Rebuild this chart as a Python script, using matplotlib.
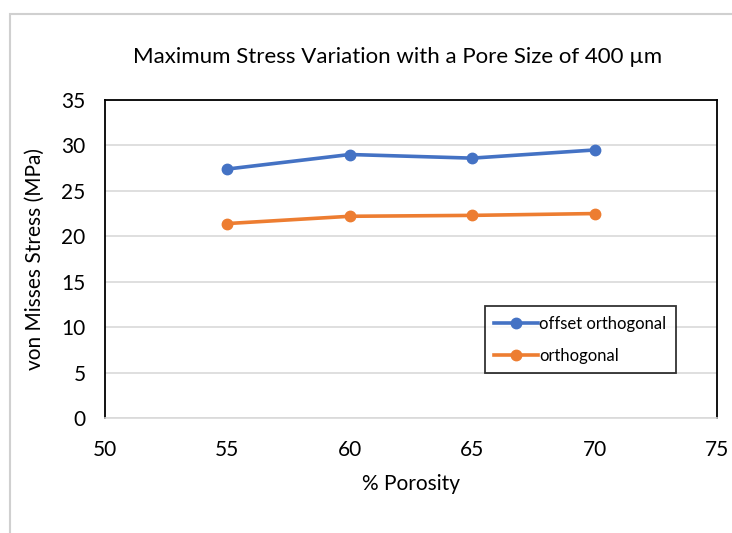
import matplotlib
matplotlib.use("Agg")
import matplotlib.pyplot as plt
from matplotlib.patches import Rectangle

porosity = [55, 60, 65, 70]
offset_orthogonal = [27.4, 29.0, 28.6, 29.5]
orthogonal = [21.4, 22.2, 22.3, 22.5]
x_ticks = [50, 55, 60, 65, 70, 75]
y_ticks = [0, 5, 10, 15, 20, 25, 30, 35]

plt.rcParams["font.family"] = ["Lato", "DejaVu Sans"]

fig = plt.figure(figsize=(7.32, 5.33), dpi=100)
ax = fig.add_axes([0.1434, 0.2158, 0.9795 - 0.1434, 0.8124 - 0.2158])

# outer chart-area border (light gray)
fig.patches.append(Rectangle((10 / 732, -0.1), 1.2, 1 - 14 / 533 + 0.1,
                             transform=fig.transFigure, fill=False,
                             edgecolor="#d0d0d0", lw=1.5))

ax.plot(porosity, offset_orthogonal, color="#4472C4", lw=2.6, marker="o",
        markersize=7.5, label="offset orthogonal")
ax.plot(porosity, orthogonal, color="#ED7D31", lw=2.6, marker="o",
        markersize=7.5, label="orthogonal")

ax.set_xlim(50, 75)
ax.set_ylim(0, 35)
ax.set_xticks(x_ticks)
ax.set_yticks(y_ticks)
ax.tick_params(axis="x", length=0, labelsize=15, pad=16)
ax.tick_params(axis="y", length=0, labelsize=15, pad=14)
ax.grid(axis="y", color="#d9d9d9", lw=1.2)
ax.set_axisbelow(True)

for s in ["top", "left", "right"]:
    ax.spines[s].set_color("black")
    ax.spines[s].set_linewidth(1.3)
ax.spines["bottom"].set_color("#d9d9d9")
ax.spines["bottom"].set_linewidth(1.2)

ax.set_xlabel("% Porosity", fontsize=15, labelpad=10)
ax.set_ylabel("von Misses Stress (MPa)", fontsize=15, labelpad=12)
fig.text(398 / 732, 1 - 57 / 533,
         "Maximum Stress Variation with a Pore Size of 400 \u00b5m",
         fontsize=16, ha="center", va="center")

leg = ax.legend(loc="lower left", bbox_to_anchor=(0.6075, 0.114), fontsize=12,
                frameon=True, fancybox=False, handlelength=2.6,
                handletextpad=0.1, borderpad=0.55, labelspacing=1.0)
leg.get_frame().set_edgecolor("black")
leg.get_frame().set_linewidth(1.3)

fig.savefig("out.png", dpi=100)
